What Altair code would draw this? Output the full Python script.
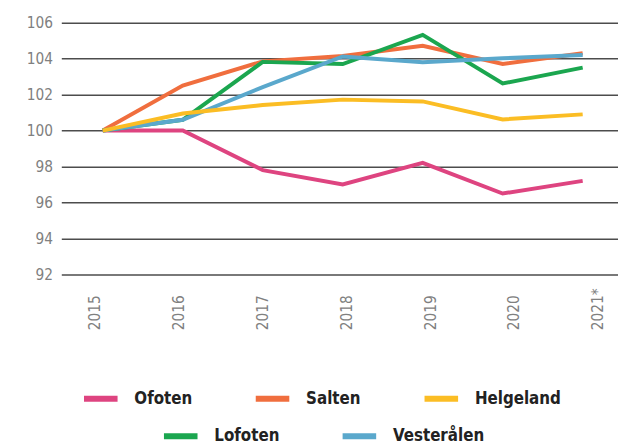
import altair as alt
import pandas as pd

years = ["2015", "2016", "2017", "2018", "2019", "2020", "2021*"]
series_names = ["Ofoten", "Salten", "Helgeland", "Lofoten", "Vesterålen"]
ofoten = [100, 100, 97.8, 97.0, 98.2, 96.5, 97.2]
salten = [100, 102.5, 103.85, 104.15, 104.72, 103.7, 104.3]
helgeland = [100, 100.95, 101.42, 101.72, 101.62, 100.62, 100.9]
lofoten = [100, 100.6, 103.82, 103.7, 105.32, 102.62, 103.5]
vesteralen = [100, 100.6, 102.42, 104.12, 103.8, 104.02, 104.2]
colors = ["#de4480", "#f06e3e", "#fbbd24", "#1ba64f", "#5aa8cc"]
y_ticks = [92, 94, 96, 98, 100, 102, 104, 106]

row1 = series_names[:3]
row2 = series_names[3:]

rows = []
for name, vals in zip(series_names, [ofoten, salten, helgeland, lofoten, vesteralen]):
    for yr, v in zip(years, vals):
        rows.append({"year": yr, "value": v, "series": name})
df = pd.DataFrame(rows)

FONT = "DejaVu Sans Condensed, DejaVu Sans, sans-serif"

x_lines = alt.X("year:O", sort=years,
                scale=alt.Scale(type="point", padding=0.48, align=0.54),
                axis=None)
y_enc = alt.Y("value:Q",
              scale=alt.Scale(domain=[92, 106], nice=False, zero=False),
              axis=alt.Axis(values=y_ticks, grid=True, title=None,
                            labelPadding=9, labelFontSize=15.5))

stroke_scale = alt.Scale(domain=row1, range=colors[:3])
color_scale = alt.Scale(domain=row2, range=colors[3:])

base = alt.Chart(df)

layer_a1 = base.transform_filter(
    alt.FieldOneOfPredicate(field="series", oneOf=["Ofoten", "Salten"])
).mark_line(strokeWidth=4).encode(
    x=x_lines, y=y_enc,
    stroke=alt.Stroke("series:N", scale=stroke_scale, sort=row1,
                      legend=alt.Legend(orient="none", legendX=20, legendY=361,
                                        direction="horizontal", title=None)),
)

layer_b = base.transform_filter(
    alt.FieldOneOfPredicate(field="series", oneOf=row2)
).mark_line(strokeWidth=4).encode(
    x=x_lines, y=y_enc,
    color=alt.Color("series:N", scale=color_scale, sort=row2,
                    legend=alt.Legend(orient="none", legendX=101, legendY=399,
                                      direction="horizontal", title=None)),
)

layer_a2 = base.transform_filter(
    alt.FieldOneOfPredicate(field="series", oneOf=["Helgeland"])
).mark_line(strokeWidth=4).encode(
    x=x_lines, y=y_enc,
    stroke=alt.Stroke("series:N", scale=stroke_scale, sort=row1),
)

label_layer = alt.Chart(pd.DataFrame({"year": years})).mark_point(opacity=0).encode(
    x=alt.X("year:O", sort=years,
            scale=alt.Scale(type="point", padding=0.321, align=0.624),
            axis=alt.Axis(orient="bottom", title=None, labelAngle=270,
                          labelAlign="left", labelBaseline="middle",
                          labelPadding=56, grid=False, labelFontSize=15.5)),
)

chart = alt.layer(layer_a1, layer_b, layer_a2, label_layer).resolve_scale(
    x="independent"
).properties(
    width=564, height=255,
    autosize=alt.AutoSizeParams(type="none"),
    padding={"left": 54, "top": 12, "right": 0, "bottom": 173},
    background="white",
).configure_view(
    stroke=None
).configure_axis(
    labelFont=FONT, labelColor="#808080", labelFontWeight="normal",
    domain=False, ticks=False, gridColor="#4d4d4d", gridWidth=1.5,
).configure_legend(
    labelFont=FONT, labelFontWeight="bold", labelFontSize=17, labelColor="#222222",
    symbolType="stroke", symbolSize=1156, symbolStrokeWidth=6,
    labelOffset=14, columnPadding=52, padding=0, labelLimit=200,
)

chart.save("out.html", embed_options={"renderer": "svg", "actions": False})
